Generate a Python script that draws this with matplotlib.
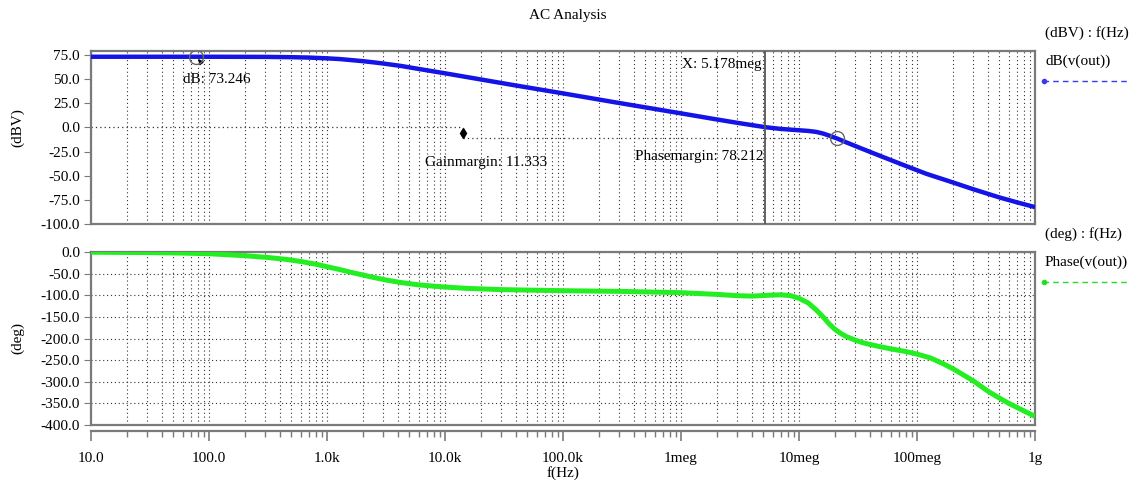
import matplotlib
matplotlib.use("Agg")
import matplotlib.pyplot as plt
from matplotlib.lines import Line2D
from matplotlib.ticker import LogLocator, NullFormatter, FixedLocator

plt.rcParams['font.family'] = ['Liberation Serif', 'DejaVu Serif']

# magnitude of v(out), dBV
freq_mag = [10, 100, 300, 500, 700, 1e3, 1.3e3, 1.6e3, 2e3, 2.5e3, 3e3, 4.2e3, 6e3,
            1e4, 3.8e4, 1e5, 2.63e5, 1e6, 1.86e6, 3e6, 5.178e6, 7e6, 1e7, 1.2e7,
            1.4e7, 1.6e7, 1.8e7, 2.09e7, 2.5e7, 3.5e7, 5e7, 8.1e7, 1.2e8, 2.02e8,
            3e8, 5e8, 7e8, 1e9]
mag_db = [73.25, 73.25, 73.1, 72.8, 72.4, 71.6, 70.8, 69.8, 68.7, 67.4, 66.2, 63.8,
          60.6, 56.1, 43.9, 35.3, 26.5, 14.6, 9.0, 4.8, 0.3, -1.5, -2.9, -3.6,
          -4.6, -6.3, -8.4, -11.3, -15.3, -22.5, -30.0, -40.0, -48.0, -57.0,
          -64.0, -72.5, -77.5, -82.5]

# phase of v(out), deg
freq_ph = [10, 30, 60, 100, 200, 309, 450, 600, 800, 1e3, 1.3e3, 1.6e3, 2e3, 2.5e3,
           3.2e3, 4.2e3, 6e3, 8e3, 1e4, 1.5e4, 3e4, 1e5, 3e5, 1e6, 2e6, 3e6, 4e6,
           5.5e6, 7e6, 8.5e6, 1e7, 1.2e7, 1.4e7, 1.6e7, 1.8e7, 2e7, 2.25e7, 2.5e7,
           3e7, 3.5e7, 4.5e7, 6e7, 8e7, 1e8, 1.3e8, 1.6e8, 2.02e8, 2.5e8, 3e8,
           4e8, 4.73e8, 6e8, 8e8, 1e9]
phase_deg = [-0.5, -1.3, -2.5, -4, -8.5, -12.5, -17, -22, -28, -34, -41, -47, -53,
             -59, -65, -70.5, -76, -79, -81, -84, -87, -89.5, -91, -94, -98, -101,
             -102, -100, -99, -101, -107, -118, -134, -150, -166, -178, -188, -195,
             -204, -210, -217, -224, -230, -236, -245, -256, -270, -285, -298,
             -322, -334, -350, -367, -380]

xtick_vals = [1e1, 1e2, 1e3, 1e4, 1e5, 1e6, 1e7, 1e8, 1e9]
xtick_labels = ['10.0', '100.0', '1.0k', '10.0k', '100.0k', '1meg', '10meg', '100meg', '1g']
mag_ticks = [75, 50, 25, 0, -25, -50, -75, -100]
ph_ticks = [0, -50, -100, -150, -200, -250, -300, -350, -400]

# cursor / margin readouts
cursor_f = 5.178e6
peak_f, peak_db = 78, 73.246
gm_f, gm_db = 2.09e7, -11.333
gm_mark_f = 1.42e4

W, H = 1136, 482
fig = plt.figure(figsize=(W / 100, H / 100), dpi=100)
frame_col = '#7a7a7a'
grid_kw = dict(color='#333333', linestyle=(0, (1, 2.5)), linewidth=0.8)
fs = 11


def px_axes(x0, y0, x1, y1):
    return fig.add_axes([x0 / W, 1 - y1 / H, (x1 - x0) / W, (y1 - y0) / H])


def style(ax, yt):
    ax.set_xscale('log')
    ax.set_xlim(10, 1e9)
    ax.xaxis.set_major_locator(FixedLocator(xtick_vals))
    ax.xaxis.set_minor_locator(LogLocator(base=10, subs=range(2, 10), numticks=20))
    ax.tick_params(axis='x', which='both', length=0, labelbottom=False)
    ax.set_yticks(yt)
    ax.set_yticklabels(['%.1f' % v for v in yt], fontsize=fs)
    ax.tick_params(axis='y', direction='out', length=5, color=frame_col, pad=3)
    for s in ax.spines.values():
        s.set_color(frame_col)
        s.set_linewidth(1.6)
    ax.grid(True, which='both', axis='x', **grid_kw)


ax1 = px_axes(91, 51, 1035, 224)
style(ax1, mag_ticks)
ax1.set_ylim(-100, 79.2)
ax1.plot(freq_mag, mag_db, color='#1414e6', lw=3.2, solid_capstyle='butt', zorder=3)
ax1.set_ylabel('(dBV)', fontsize=fs)
ax1.yaxis.set_label_coords(-67 / 944, 0.555)

# markers and cursor
ax1.axvline(cursor_f, color='#555555', lw=1.3, zorder=4)
ax1.plot([10, gm_mark_f], [0, 0], color='#333333', linestyle=(0, (1, 2.5)), lw=0.9)
ax1.plot([gm_mark_f, gm_f], [gm_db, gm_db], color='#333333', linestyle=(0, (1, 2.5)), lw=0.9)
ax1.plot([gm_mark_f], [-6.0], marker='d', color='black', markersize=5, zorder=5)
ax1.plot([peak_f], [peak_db], marker='o', mfc='none', mec='#666666', markersize=10, zorder=5)
ax1.plot([gm_f], [gm_db], marker='o', mfc='none', mec='#666666', markersize=10, zorder=5)
ax1.annotate('', xy=(peak_f, peak_db), xytext=(90, 64),
             arrowprops=dict(arrowstyle='-|>', color='black', lw=0.8, mutation_scale=8))
ax1.text(60, 50, 'dB: 73.246', fontsize=fs, va='center')
ax1.text(cursor_f * 0.93, 65.5, 'X: 5.178meg', fontsize=fs, ha='right', va='center')
ax1.text(6.8e3, -36.5, 'Gainmargin: 11.333', fontsize=fs, va='center')
ax1.text(cursor_f * 0.97, -30, 'Phasemargin: 78.212', fontsize=fs, ha='right', va='center')

ax2 = px_axes(91, 252, 1035, 425)
style(ax2, ph_ticks)
ax2.set_ylim(-400, 0)
ax2.grid(True, which='major', axis='y', **grid_kw)
ax2.plot(freq_ph, phase_deg, color='#22ee22', lw=3.6, solid_capstyle='butt', zorder=3)
ax2.set_ylabel('(deg)', fontsize=fs)
ax2.yaxis.set_label_coords(-67 / 944, 0.5)

# separate frequency axis strip
ax3 = px_axes(91, 431, 1035, 431.01)
ax3.set_xscale('log')
ax3.set_xlim(10, 1e9)
ax3.set_yticks([])
for k in ['top', 'left', 'right']:
    ax3.spines[k].set_visible(False)
ax3.spines['bottom'].set_color(frame_col)
ax3.spines['bottom'].set_linewidth(1.6)
ax3.set_xticks(xtick_vals)
ax3.set_xticklabels(xtick_labels, fontsize=fs)
ax3.xaxis.set_minor_locator(LogLocator(base=10, subs=range(2, 10), numticks=20))
ax3.xaxis.set_minor_formatter(NullFormatter())
ax3.tick_params(axis='x', which='major', length=7, color=frame_col, width=1.2, pad=8)
ax3.tick_params(axis='x', which='minor', length=4, color=frame_col, width=1.0)
ax3.set_xlabel('f(Hz)', fontsize=fs, labelpad=1)
ax3.patch.set_visible(False)

fig.text(568 / W, 1 - 16 / H, 'AC Analysis', fontsize=fs, ha='center', va='center')

# right-hand trace labels
fig.text(1045 / W, 1 - 33 / H, '(dBV) : f(Hz)', fontsize=fs, va='center')
fig.text(1045 / W, 1 - 61 / H, 'dB(v(out))', fontsize=fs, va='center')
fig.text(1045 / W, 1 - 234 / H, '(deg) : f(Hz)', fontsize=fs, va='center')
fig.text(1045 / W, 1 - 262 / H, 'Phase(v(out))', fontsize=fs, va='center')
for yy, col in [(81, '#3a3aee'), (282, '#22dd22')]:
    fig.add_artist(Line2D([1043 / W, 1130 / W], [1 - yy / H, 1 - yy / H], color=col,
                          lw=1.0, linestyle=(0, (4, 3)), transform=fig.transFigure))
    fig.add_artist(Line2D([1044 / W], [1 - yy / H], marker='o', markersize=3, color=col,
                          transform=fig.transFigure))

fig.savefig('out.png', dpi=100)
